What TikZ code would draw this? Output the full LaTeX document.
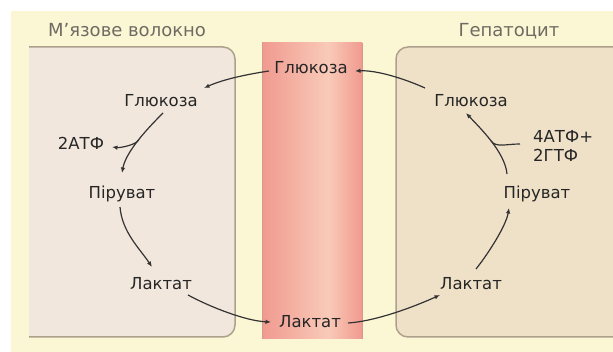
\documentclass[tikz,border=0pt]{standalone}
\usepackage{fontspec}
\setmainfont{DejaVu Sans}
\usetikzlibrary{arrows.meta}

\definecolor{pagebg}{HTML}{FBF7D5}
\definecolor{musclefill}{HTML}{F1E7DD}
\definecolor{liverfill}{HTML}{EFE0C8}
\definecolor{cellborder}{HTML}{ADA08C}
\definecolor{bloodedge}{HTML}{F09A8F}
\definecolor{bloodlight}{HTML}{F9CAB8}
\definecolor{bloodline}{HTML}{D49A90}
\definecolor{titlegray}{HTML}{6F6A62}
\definecolor{ink}{HTML}{262626}
\definecolor{wire}{HTML}{333333}

\tikzset{
  lbl/.style={font=\fontsize{16.5}{19}\selectfont, text=ink, inner sep=1pt, anchor=base},
  celltitle/.style={font=\fontsize{18}{21}\selectfont, text=titlegray, inner sep=1pt, anchor=base},
  flow/.style={draw=wire, line width=1.2pt, -{Latex[length=5.5pt,width=4.5pt]}},
  merge/.style={draw=wire, line width=1.2pt},
  cellwall/.style={draw=cellborder, line width=1.5pt}
}

\begin{document}
\begin{tikzpicture}[x=1pt,y=-1pt]
\useasboundingbox (0,0) rectangle (613,352);

% page background
\fill[pagebg] (11,11) rectangle (613,352);

% muscle fibre (left cell)
\fill[musclefill] (29,47) -- (223,47) arc[start angle=-90,end angle=0,radius=12]
  -- (235,325) arc[start angle=0,end angle=90,radius=12] -- (29,337) -- cycle;
\draw[cellwall] (29,47) -- (223,47) arc[start angle=-90,end angle=0,radius=12]
  -- (235,325) arc[start angle=0,end angle=90,radius=12] -- (29,337);

% hepatocyte (right cell)
\fill[liverfill] (613,47) -- (408,47) arc[start angle=-90,end angle=-180,radius=12]
  -- (396,325) arc[start angle=180,end angle=90,radius=12] -- (613,337) -- cycle;
\draw[cellwall] (613,47) -- (408,47) arc[start angle=-90,end angle=-180,radius=12]
  -- (396,325) arc[start angle=180,end angle=90,radius=12] -- (613,337);

% blood vessel
\shade[left color=bloodedge, right color=bloodlight] (262,43) rectangle (328,339);
\shade[left color=bloodlight, right color=bloodedge] (328,43) rectangle (362,339);
\draw[bloodline, line width=0.8pt] (262,43) -- (262,339) (362,43) -- (362,339);

% titles
\node[celltitle] (tm) at (127,37) {М’язове волокно};
\node[celltitle] (th) at (509,37) {Гепатоцит};

% blood
\node[lbl] (mg) at (311,74) {Глюкоза};
\node[lbl] (ml) at (310,328) {Лактат};

% muscle
\node[lbl] (lg) at (161,107) {Глюкоза};
\node[lbl] (la) at (81,150) {2АТФ};
\node[lbl] (lp) at (122,199) {Піруват};
\node[lbl] (ll) at (161,290) {Лактат};

% liver
\node[lbl] (rg) at (471,107) {Глюкоза};
\node[lbl, anchor=base west] (re1) at (532,143) {4АТФ+};
\node[lbl, anchor=base west] (re2) at (532,162) {2ГТФ};
\node[lbl] (rp) at (537,199) {Піруват};
\node[lbl] (rl) at (471,290) {Лактат};

% glucose uptake by the muscle
\draw[flow] ([shift={(-42,-3)}]mg.base) .. controls +(-20,3) and +(20,-9) .. ([shift={(43,-19)}]lg.base);

% glycolysis with ATP yield
\draw[flow] ([shift={(2,6)}]lg.base) .. controls +(-14,14) and +(4,-22) ..
  coordinate[pos=0.5] (lb) ([shift={(0,-26)}]lp.base);
\draw[flow] (lb) .. controls +(-3,5) and +(8,1) .. ([shift={(31,-3)}]la.base);

\draw[flow] ([shift={(-2,8)}]lp.base) .. controls +(2,25) and +(-12,-18) .. ([shift={(-9,-23)}]ll.base);

% lactate export and uptake
\draw[flow] ([shift={(27,5)}]ll.base) .. controls +(22,12) and +(-25,-1) .. ([shift={(-39,-6)}]ml.base);
\draw[flow] ([shift={(38,-5)}]ml.base) .. controls +(30,-2) and +(-22,10) .. ([shift={(-31,5)}]rl.base);

% gluconeogenesis
\draw[flow] ([shift={(5,-21)}]rl.base) .. controls +(12,-15) and +(-3,18) .. ([shift={(-28,9)}]rp.base);
\draw[flow] ([shift={(-30,-25)}]rp.base) .. controls +(-2,-22) and +(14,15) ..
  coordinate[pos=0.5] (rb) ([shift={(-5,6)}]rg.base);
\draw[merge] ([shift={(-12,1)}]re1.base west) .. controls +(-14,0) and +(5,7) .. (rb);

% glucose release into the blood
\draw[flow] ([shift={(-46,-19)}]rg.base) .. controls +(-20,-9) and +(22,-1) .. ([shift={(44,-3)}]mg.base);
\end{tikzpicture}
\end{document}
